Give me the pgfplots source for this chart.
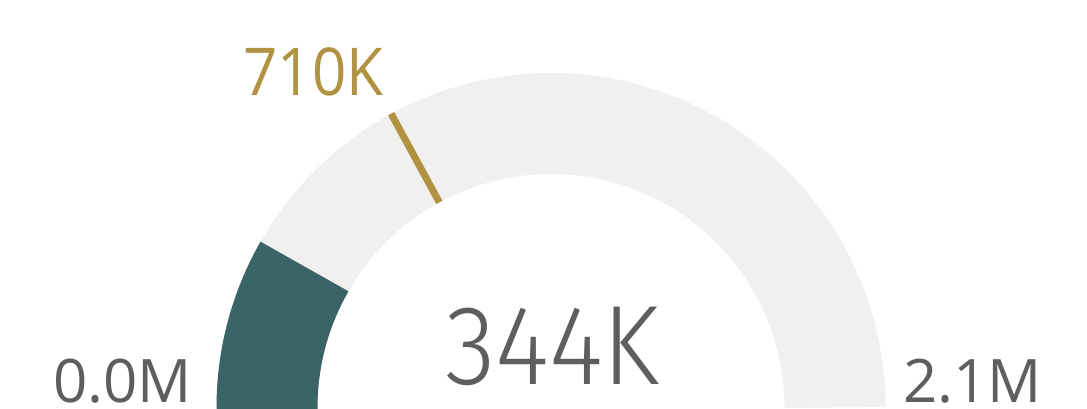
\documentclass[border=0pt]{standalone}
\usepackage{fontspec}
\setmainfont{Open Sans}
\newfontfamily\lightfont{Fira Sans Light}
\usepackage{graphicx}
\usepackage{pgfplots}
\pgfplotsset{compat=1.18}
\definecolor{teal}{HTML}{3A6467}
\definecolor{bandgrey}{HTML}{F1F0EF}
\definecolor{gold}{HTML}{B09242}
\definecolor{txt}{HTML}{605E5C}
% gauge data (thousands)
\def\gval{344}
\def\gtarget{710}
\def\gmax{2080}
\begin{document}
\begin{tikzpicture}
\begin{axis}[
  at={(0,0)}, anchor=south west,
  width=1087pt, height=409pt, scale only axis,
  xmin=0, xmax=1087, ymin=0, ymax=409,
  hide axis, clip=false,
]
% background band
\addplot[draw=bandgrey, line width=101pt, domain=0:180, samples=181, variable=\t]
  ({551+284*cos(\t)}, {1.5+284*sin(\t)});
% value band
\addplot[draw=teal, line width=101pt, domain={180-180*\gval/\gmax}:180.3, samples=60, variable=\t]
  ({551+284*cos(\t)}, {1.5+284*sin(\t)});
% target marker
\addplot[draw=gold, line width=7pt, domain=233.5:334.5, samples=2, variable=\r]
  ({551+\r*cos(180-180*\gtarget/\gmax)}, {1.5+\r*sin(180-180*\gtarget/\gmax)});
\node[anchor=base, inner sep=0, text=txt, font=\lightfont\fontsize{113}{113}\selectfont] at (axis cs:552.5,24) {\scalebox{0.92}[1]{344K}};
\node[anchor=base, inner sep=0, text=txt, font=\fontsize{60}{60}\selectfont] at (axis cs:122.5,6) {0.0M};
\node[anchor=base, inner sep=0, text=txt, font=\fontsize{60}{60}\selectfont] at (axis cs:972.5,6) {2.1M};
\node[anchor=base, inner sep=0, text=gold, font=\fontsize{66}{66}\selectfont] at (axis cs:313.5,313) {\scalebox{0.91}[1]{710K}};
\end{axis}
\pgfresetboundingbox
\path[use as bounding box] (0,0) rectangle (1087pt,409pt);
\end{tikzpicture}
\end{document}
